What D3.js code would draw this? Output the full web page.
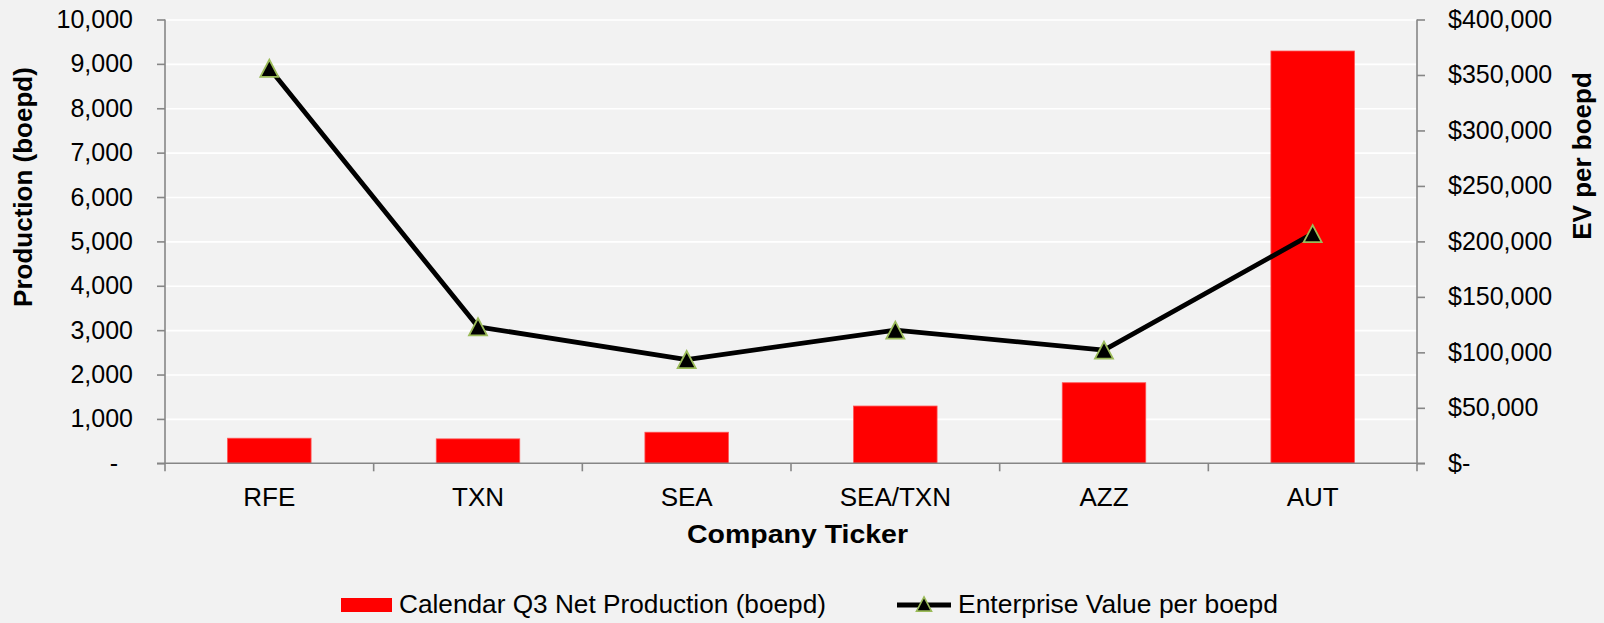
<!DOCTYPE html>
<html>
<head>
<meta charset="utf-8">
<script src="https://cdn.jsdelivr.net/npm/d3@7"></script>
<style>
  html, body { margin: 0; padding: 0; background: #F2F2F2; }
  svg { display: block; }
  text { font-family: "Liberation Sans", Arial, sans-serif; fill: #000; }
</style>
</head>
<body>
<svg id="chart" width="1604" height="623"></svg>
<script>
// ---- data ----
const categories = ["RFE", "TXN", "SEA", "SEA/TXN", "AZZ", "AUT"];
const production = [565, 550, 700, 1290, 1815, 9290];          // boepd (left axis)
const evPerBoepd = [356000, 123000, 93500, 120000, 102000, 207000]; // $ (right axis)
const leftTicks = [0, 1000, 2000, 3000, 4000, 5000, 6000, 7000, 8000, 9000, 10000];
const leftTickLabels = ["-", "1,000", "2,000", "3,000", "4,000", "5,000", "6,000", "7,000", "8,000", "9,000", "10,000"];
const rightTicks = [0, 50000, 100000, 150000, 200000, 250000, 300000, 350000, 400000];
const rightTickLabels = ["$-", "$50,000", "$100,000", "$150,000", "$200,000", "$250,000", "$300,000", "$350,000", "$400,000"];
const seriesNames = ["Calendar Q3 Net Production (boepd)", "Enterprise Value per boepd"];

// ---- layout ----
const svg = d3.select("#chart");
const L = 165, R = 1417, T = 19.5, B = 463.3;
const axisColor = "#868686";
const fs = 25;

svg.append("rect").attr("width", 1604).attr("height", 623).attr("fill", "#F2F2F2");

const x = d3.scaleBand().domain(categories).range([L, R]).padding(0);
const yL = d3.scaleLinear().domain([0, 10000]).range([B, T]);
const yR = d3.scaleLinear().domain([0, 400000]).range([B, T]);

// gridlines
const grid = svg.append("g").attr("transform", `translate(${L},0)`)
  .call(d3.axisLeft(yL).tickValues(leftTicks.slice(1)).tickSize(-(R - L)).tickFormat(""));
grid.select(".domain").remove();
grid.selectAll("line").attr("stroke", "#FFFFFF").attr("stroke-width", 1.6);

// bars
const bw = x.bandwidth();
svg.append("g").selectAll("rect").data(categories).join("rect")
  .attr("x", d => x(d) + bw * 0.3)
  .attr("width", bw * 0.4)
  .attr("y", (d, i) => yL(production[i]))
  .attr("height", (d, i) => B - yL(production[i]))
  .attr("fill", "#FF0000")
  .attr("stroke", "#FF5050").attr("stroke-width", 0.8);

// left axis
const gl = svg.append("g").attr("transform", `translate(${L},0)`)
  .call(d3.axisLeft(yL).tickValues(leftTicks).tickSize(8).tickPadding(24)
    .tickFormat((d, i) => leftTickLabels[i]));
gl.select(".domain").attr("stroke", axisColor).attr("stroke-width", 1.6).attr("d", `M0,${T}V${B}`);
gl.selectAll(".tick line").attr("stroke", axisColor).attr("stroke-width", 1.6);
gl.selectAll(".tick text").attr("font-size", fs).attr("font-family", "Liberation Sans, Arial, sans-serif").attr("fill", "#000")
  .attr("dx", (d, i) => i === 0 ? -15 : 0);

// right axis
const gr = svg.append("g").attr("transform", `translate(${R},0)`)
  .call(d3.axisRight(yR).tickValues(rightTicks).tickSize(8).tickPadding(23)
    .tickFormat((d, i) => rightTickLabels[i]));
gr.select(".domain").attr("stroke", axisColor).attr("stroke-width", 1.6).attr("d", `M0,${T}V${B}`);
gr.selectAll(".tick line").attr("stroke", axisColor).attr("stroke-width", 1.6);
gr.selectAll(".tick text").attr("font-size", fs).attr("font-family", "Liberation Sans, Arial, sans-serif").attr("fill", "#000");

// bottom axis (labels) + boundary ticks
const gb = svg.append("g").attr("transform", `translate(0,${B})`)
  .call(d3.axisBottom(x).tickSize(0).tickPadding(22));
gb.select(".domain").attr("stroke", axisColor).attr("stroke-width", 1.6).attr("d", `M${L - 8},0H${R + 8}`);
gb.selectAll(".tick text").attr("font-size", 26).attr("font-family", "Liberation Sans, Arial, sans-serif").attr("fill", "#000")
  .attr("dy", "0.8em");
const bounds = categories.map(c => x(c)).concat([x.range()[1]]);
gb.append("g").selectAll("line").data(bounds).join("line")
  .attr("x1", d => d).attr("x2", d => d).attr("y1", 0).attr("y2", 8)
  .attr("stroke", axisColor).attr("stroke-width", 1.6);

// line series
const cx = d => x(d) + bw / 2;
const line = d3.line().x((d, i) => cx(categories[i])).y(d => yR(d));
svg.append("path").datum(evPerBoepd)
  .attr("d", line).attr("fill", "none").attr("stroke", "#000").attr("stroke-width", 4.8)
  .attr("stroke-linejoin", "round");

function tri(s) {
  const h = s * 0.95;
  return `M0,${-h / 2}L${s / 2},${h / 2}L${-s / 2},${h / 2}Z`;
}
svg.append("g").selectAll("path").data(evPerBoepd).join("path")
  .attr("transform", (d, i) => `translate(${cx(categories[i])},${yR(d)})`)
  .attr("d", tri(18))
  .attr("fill", "#000").attr("stroke", "#9BBB59").attr("stroke-width", 1.8);

// axis titles
svg.append("text").attr("transform", "translate(23,187) rotate(-90)")
  .attr("text-anchor", "middle").attr("dominant-baseline", "central")
  .attr("font-size", 26).attr("font-weight", "bold").text("Production (boepd)");
svg.append("text").attr("transform", "translate(1582,156) rotate(-90)")
  .attr("text-anchor", "middle").attr("dominant-baseline", "central")
  .attr("font-size", 26).attr("font-weight", "bold").text("EV per boepd");
svg.append("text").attr("x", 797.5).attr("y", 543)
  .attr("text-anchor", "middle").attr("font-size", 26.5).attr("font-weight", "bold")
  .attr("textLength", 221).attr("lengthAdjust", "spacingAndGlyphs").text("Company Ticker");

// legend
const lg = svg.append("g");
lg.append("rect").attr("x", 341).attr("y", 598).attr("width", 51).attr("height", 14).attr("fill", "#FF0000");
lg.append("text").attr("x", 399).attr("y", 613).attr("font-size", 25.5)
  .attr("textLength", 427).attr("lengthAdjust", "spacingAndGlyphs").text(seriesNames[0]);
lg.append("line").attr("x1", 897).attr("x2", 951).attr("y1", 605).attr("y2", 605)
  .attr("stroke", "#000").attr("stroke-width", 4.8);
lg.append("path").attr("transform", "translate(924,604)").attr("d", tri(15))
  .attr("fill", "#000").attr("stroke", "#9BBB59").attr("stroke-width", 1.6);
lg.append("text").attr("x", 958).attr("y", 613).attr("font-size", 25.5)
  .attr("textLength", 320).attr("lengthAdjust", "spacingAndGlyphs").text(seriesNames[1]);
</script>
</body>
</html>
